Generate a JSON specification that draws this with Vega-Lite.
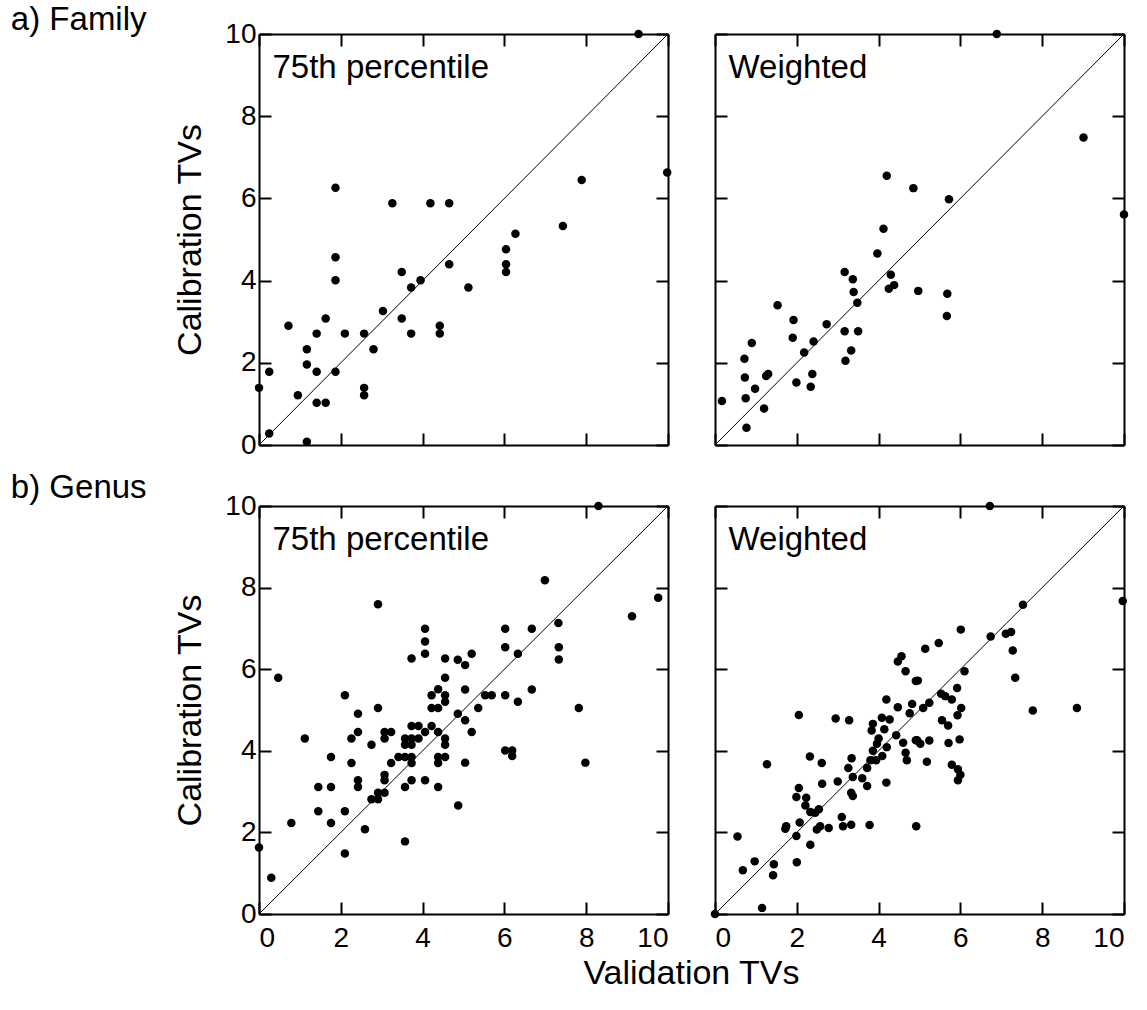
{
  "$schema": "https://vega.github.io/schema/vega-lite/v6.json",
  "padding": {"left": 10, "top": 4, "right": 10, "bottom": 5},
  "background": "white",
  "config": {
    "font": "Liberation Sans",
    "view": {"stroke": null},
    "axis": {
      "domainColor": "black", "domainWidth": 2, "tickColor": "black", "tickWidth": 2, "tickSize": -12,
      "labelFontSize": 28, "labelColor": "black", "labelFont": "Liberation Sans", "labelPadding": 15,
      "titleFont": "Liberation Sans", "titleFontSize": 34, "titleFontWeight": "normal", "titleColor": "black",
      "grid": false
    },
    "title": {"font": "Liberation Sans", "fontSize": 33, "fontWeight": "normal", "color": "black", "anchor": "start"}
  },
  "datasets": {
    "famP": [
      {"x":0,"y":1.39},{"x":0.25,"y":1.78},{"x":0.25,"y":0.28},{"x":1.17,"y":0.08},{"x":0.95,"y":1.21},{"x":0.72,"y":2.9},{"x":1.17,"y":2.33},{"x":1.17,"y":1.96},{"x":1.41,"y":2.71},{"x":1.41,"y":1.78},{"x":1.41,"y":1.03},{"x":1.63,"y":1.03},{"x":1.63,"y":3.08},{"x":1.87,"y":4.57},{"x":1.87,"y":4.01},{"x":1.87,"y":1.78},{"x":2.1,"y":2.71},{"x":2.57,"y":2.71},{"x":2.57,"y":1.39},{"x":2.57,"y":1.21},{"x":2.8,"y":2.33},{"x":3.03,"y":3.26},{"x":3.49,"y":4.21},{"x":3.49,"y":3.08},{"x":3.72,"y":3.83},{"x":3.72,"y":2.71},{"x":3.95,"y":4.01},{"x":4.42,"y":2.9},{"x":4.42,"y":2.71},{"x":4.65,"y":4.4},{"x":5.12,"y":3.83},{"x":6.04,"y":4.76},{"x":6.04,"y":4.4},{"x":6.04,"y":4.21},{"x":6.27,"y":5.14},{"x":9.28,"y":10},{"x":9.98,"y":6.63},{"x":1.87,"y":6.26},{"x":3.26,"y":5.88},{"x":4.19,"y":5.88},{"x":4.65,"y":5.88},{"x":7.89,"y":6.45},{"x":7.43,"y":5.33}
    ],
    "famW": [
      {"x":6.89,"y":10},{"x":9.01,"y":7.48},{"x":10,"y":5.61},{"x":4.2,"y":6.55},{"x":4.85,"y":6.25},{"x":5.72,"y":5.98},{"x":4.12,"y":5.26},{"x":0.17,"y":1.07},{"x":0.77,"y":0.42},{"x":0.72,"y":2.1},{"x":0.73,"y":1.64},{"x":0.75,"y":1.14},{"x":0.9,"y":2.48},{"x":0.98,"y":1.37},{"x":1.2,"y":0.89},{"x":1.25,"y":1.68},{"x":1.3,"y":1.73},{"x":1.53,"y":3.4},{"x":1.92,"y":3.04},{"x":1.9,"y":2.61},{"x":1.99,"y":1.52},{"x":2.18,"y":2.25},{"x":2.34,"y":1.42},{"x":2.38,"y":1.73},{"x":2.41,"y":2.52},{"x":2.73,"y":2.94},{"x":3.17,"y":4.21},{"x":3.37,"y":4.03},{"x":3.39,"y":3.72},{"x":3.48,"y":3.46},{"x":3.17,"y":2.77},{"x":3.5,"y":2.77},{"x":3.33,"y":2.3},{"x":3.19,"y":2.05},{"x":3.97,"y":4.66},{"x":4.3,"y":4.14},{"x":4.25,"y":3.8},{"x":4.38,"y":3.89},{"x":4.97,"y":3.75},{"x":5.68,"y":3.68},{"x":5.67,"y":3.14}
    ],
    "genP": [
      {"x":8.3,"y":10},{"x":6.99,"y":8.18},{"x":2.91,"y":7.59},{"x":9.76,"y":7.75},{"x":9.12,"y":7.3},{"x":7.32,"y":7.13},{"x":4.06,"y":6.99},{"x":6.02,"y":6.99},{"x":6.67,"y":6.99},
      {"x":4.06,"y":6.68},{"x":4.06,"y":6.38},{"x":3.73,"y":6.26},{"x":4.55,"y":6.26},{"x":4.86,"y":6.23},{"x":0.47,"y":5.79},{"x":4.55,"y":5.79},{"x":2.1,"y":5.36},{"x":4.22,"y":5.36},{"x":4.38,"y":5.51},{"x":4.55,"y":5.36},{"x":4.22,"y":5.05},{"x":4.38,"y":5.05},{"x":4.55,"y":5.2},{"x":4.86,"y":4.91},{"x":2.91,"y":5.05},{"x":2.42,"y":4.91},{"x":1.12,"y":4.3},{"x":2.42,"y":4.46},{"x":2.26,"y":4.3},{"x":2.75,"y":4.15},{"x":3.07,"y":4.46},{"x":3.23,"y":4.46},{"x":3.07,"y":4.3},{"x":3.57,"y":4.3},{"x":3.73,"y":4.61},{"x":3.9,"y":4.61},{"x":3.73,"y":4.3},{"x":3.57,"y":4.15},{"x":3.73,"y":4.15},{"x":3.9,"y":4.3},{"x":4.06,"y":4.46},{"x":4.22,"y":4.61},{"x":4.38,"y":4.46},{"x":4.55,"y":4.3},{"x":4.55,"y":4.15},{"x":1.76,"y":3.85},{"x":2.26,"y":3.7},{"x":3.23,"y":3.7},{"x":3.41,"y":3.85},{"x":3.57,"y":3.85},{"x":3.73,"y":3.85},{"x":3.73,"y":3.7},{"x":4.38,"y":3.85},{"x":4.55,"y":3.85},{"x":4.38,"y":3.7},{"x":3.07,"y":3.41},{"x":3.07,"y":3.28},{"x":2.42,"y":3.28},{"x":3.73,"y":3.28},{"x":4.06,"y":3.28},
      {"x":6.02,"y":6.54},{"x":6.33,"y":6.38},{"x":7.33,"y":6.54},{"x":7.33,"y":6.24},{"x":5.2,"y":6.38},{"x":5.04,"y":6.1},{"x":5.04,"y":5.5},{"x":5.53,"y":5.36},{"x":5.69,"y":5.36},{"x":6.02,"y":5.36},{"x":6.67,"y":5.5},{"x":6.33,"y":5.2},{"x":5.36,"y":5.05},{"x":5.04,"y":4.75},{"x":5.2,"y":4.46},{"x":7.82,"y":5.05},{"x":6.02,"y":4.01},{"x":6.19,"y":4.01},{"x":6.19,"y":3.87},{"x":5.04,"y":3.71},{"x":7.98,"y":3.71},
      {"x":2.42,"y":3.11},{"x":1.45,"y":3.11},{"x":1.76,"y":3.11},{"x":3.57,"y":3.11},{"x":4.38,"y":3.11},{"x":2.75,"y":2.81},{"x":2.91,"y":2.97},{"x":2.91,"y":2.81},{"x":3.07,"y":2.97},{"x":4.87,"y":2.66},{"x":1.45,"y":2.52},{"x":2.1,"y":2.52},{"x":0.79,"y":2.23},{"x":1.76,"y":2.23},{"x":2.59,"y":2.08},{"x":3.57,"y":1.78},{"x":0,"y":1.63},{"x":2.1,"y":1.48},{"x":0.3,"y":0.89}
    ],
    "genW": [
      {"x":6.72,"y":10},{"x":9.97,"y":7.67},{"x":7.53,"y":7.58},{"x":6.01,"y":6.97},{"x":6.74,"y":6.8},{"x":7.11,"y":6.87},{"x":7.24,"y":6.91},
      {"x":4.56,"y":6.32},{"x":4.47,"y":6.19},{"x":4.66,"y":5.95},{"x":4.91,"y":5.71},{"x":2.05,"y":4.88},{"x":2.95,"y":4.79},{"x":3.28,"y":4.75},{"x":4.19,"y":5.26},{"x":4.47,"y":5.07},{"x":4.82,"y":5.15},{"x":4.76,"y":4.92},{"x":4.08,"y":4.81},{"x":4.27,"y":4.77},{"x":3.86,"y":4.66},{"x":3.83,"y":4.5},{"x":4.14,"y":4.53},{"x":4.43,"y":4.38},{"x":4.0,"y":4.3},{"x":4.6,"y":4.2},{"x":4.91,"y":4.26},{"x":3.96,"y":4.17},{"x":4.2,"y":4.09},{"x":3.86,"y":4.0},{"x":4.09,"y":3.87},{"x":4.66,"y":3.95},{"x":4.69,"y":3.77},{"x":3.8,"y":3.77},{"x":3.94,"y":3.77},{"x":1.27,"y":3.67},{"x":2.32,"y":3.86},{"x":2.61,"y":3.7},{"x":3.34,"y":3.82},{"x":3.26,"y":3.58},{"x":3.72,"y":3.58},{"x":2.62,"y":3.19},{"x":3.0,"y":3.25},{"x":3.37,"y":3.36},{"x":3.6,"y":3.33},{"x":4.19,"y":3.22},
      {"x":5.14,"y":6.5},{"x":5.47,"y":6.64},{"x":7.28,"y":6.46},{"x":7.34,"y":5.79},{"x":6.1,"y":5.95},{"x":4.96,"y":5.72},{"x":5.92,"y":5.54},{"x":5.53,"y":5.4},{"x":5.63,"y":5.34},{"x":5.79,"y":5.26},{"x":5.24,"y":5.18},{"x":5.09,"y":5.05},{"x":6.02,"y":5.05},{"x":5.93,"y":4.87},{"x":7.77,"y":4.99},{"x":8.85,"y":5.05},{"x":5.55,"y":4.75},{"x":5.7,"y":4.62},{"x":4.94,"y":4.26},{"x":5.02,"y":4.17},{"x":5.24,"y":4.25},{"x":5.71,"y":4.19},{"x":5.98,"y":4.28},{"x":5.18,"y":3.73},{"x":5.79,"y":3.66},{"x":5.94,"y":3.55},{"x":6.0,"y":3.41},{"x":5.94,"y":3.28},
      {"x":0,"y":0},{"x":1.15,"y":0.15},{"x":0.55,"y":1.9},{"x":0.68,"y":1.07},{"x":0.97,"y":1.29},{"x":1.44,"y":1.22},{"x":1.42,"y":0.95},{"x":2.0,"y":1.27},{"x":2.33,"y":1.7},{"x":1.99,"y":1.91},{"x":1.72,"y":2.09},{"x":1.74,"y":2.15},{"x":2.07,"y":2.24},{"x":2.49,"y":2.07},{"x":2.57,"y":2.15},{"x":2.78,"y":2.11},{"x":3.1,"y":2.38},{"x":3.13,"y":2.15},{"x":3.33,"y":2.19},{"x":3.78,"y":2.18},{"x":4.92,"y":2.15},{"x":1.99,"y":2.87},{"x":2.05,"y":3.09},{"x":2.23,"y":2.85},{"x":2.21,"y":2.66},{"x":2.33,"y":2.5},{"x":2.45,"y":2.48},{"x":2.54,"y":2.57},{"x":3.33,"y":2.97},{"x":3.37,"y":2.89},{"x":3.72,"y":3.14}
    ]
  },
  "spacing": 13,
  "vconcat": [
    {
      "title": {"text": "a) Family", "dx": -163, "offset": -17},
      "spacing": 47,
      "bounds": "flush",
      "hconcat": [
        {
          "width": 409, "height": 411,
          "resolve": {"axis": {"x": "independent", "y": "independent"}},
          "layer": [
            {"data": {"values": [{"a": 0, "b": 0, "a2": 10, "b2": 10}]},
             "mark": {"type": "rule", "color": "black", "strokeWidth": 1},
             "encoding": {
               "x": {"field": "a", "type": "quantitative", "scale": {"domain": [0, 10], "nice": false}, "axis": {"orient": "bottom", "labels": false, "title": null, "values": [0, 2, 4, 6, 8, 10]}},
               "y": {"field": "b", "type": "quantitative", "scale": {"domain": [0, 10], "nice": false}, "axis": {"orient": "left", "title": "Calibration TVs", "titlePadding": 17, "values": [0, 2, 4, 6, 8, 10]}},
               "x2": {"field": "a2"}, "y2": {"field": "b2"}}},
            {"data": {"name": "famP"},
             "mark": {"type": "circle", "color": "black", "size": 72, "opacity": 1},
             "encoding": {
               "x": {"field": "x", "type": "quantitative", "scale": {"domain": [0, 10], "nice": false}, "axis": {"orient": "top", "labels": false, "title": null, "values": [0, 2, 4, 6, 8, 10]}},
               "y": {"field": "y", "type": "quantitative", "scale": {"domain": [0, 10], "nice": false}, "axis": {"orient": "right", "labels": false, "title": null, "values": [0, 2, 4, 6, 8, 10]}}}},
            {"data": {"values": [{"label": "75th percentile"}]},
             "mark": {"type": "text", "align": "left", "baseline": "top", "fontSize": 33, "font": "Liberation Sans", "color": "black"},
             "encoding": {"text": {"field": "label"}, "x": {"datum": 0.33, "type": "quantitative", "axis": null}, "y": {"datum": 9.55, "type": "quantitative", "axis": null}}}
          ]
        },
        {
          "width": 409, "height": 411,
          "resolve": {"axis": {"x": "independent", "y": "independent"}},
          "layer": [
            {"data": {"values": [{"a": 0, "b": 0, "a2": 10, "b2": 10}]},
             "mark": {"type": "rule", "color": "black", "strokeWidth": 1},
             "encoding": {
               "x": {"field": "a", "type": "quantitative", "scale": {"domain": [0, 10], "nice": false}, "axis": {"orient": "bottom", "labels": false, "title": null, "values": [0, 2, 4, 6, 8, 10]}},
               "y": {"field": "b", "type": "quantitative", "scale": {"domain": [0, 10], "nice": false}, "axis": {"orient": "left", "labels": false, "title": null, "values": [0, 2, 4, 6, 8, 10]}},
               "x2": {"field": "a2"}, "y2": {"field": "b2"}}},
            {"data": {"name": "famW"},
             "mark": {"type": "circle", "color": "black", "size": 72, "opacity": 1},
             "encoding": {
               "x": {"field": "x", "type": "quantitative", "scale": {"domain": [0, 10], "nice": false}, "axis": {"orient": "top", "labels": false, "title": null, "values": [0, 2, 4, 6, 8, 10]}},
               "y": {"field": "y", "type": "quantitative", "scale": {"domain": [0, 10], "nice": false}, "axis": {"orient": "right", "labels": false, "title": null, "values": [0, 2, 4, 6, 8, 10]}}}},
            {"data": {"values": [{"label": "Weighted"}]},
             "mark": {"type": "text", "align": "left", "baseline": "top", "fontSize": 33, "font": "Liberation Sans", "color": "black"},
             "encoding": {"text": {"field": "label"}, "x": {"datum": 0.33, "type": "quantitative", "axis": null}, "y": {"datum": 9.55, "type": "quantitative", "axis": null}}}
          ]
        }
      ]
    },
    {
      "title": {"text": "b) Genus", "dx": -163, "offset": -13},
      "spacing": 47,
      "bounds": "flush",
      "hconcat": [
        {
          "width": 409, "height": 408,
          "resolve": {"axis": {"x": "independent", "y": "independent"}},
          "layer": [
            {"data": {"values": [{"a": 0, "b": 0, "a2": 10, "b2": 10}]},
             "mark": {"type": "rule", "color": "black", "strokeWidth": 1},
             "encoding": {
               "x": {"field": "a", "type": "quantitative", "scale": {"domain": [0, 10], "nice": false}, "axis": {"orient": "bottom", "title": "Validation TVs", "titleX": 432, "titlePadding": 4, "labelPadding": 22, "values": [0, 2, 4, 6, 8, 10]}},
               "y": {"field": "b", "type": "quantitative", "scale": {"domain": [0, 10], "nice": false}, "axis": {"orient": "left", "title": "Calibration TVs", "titlePadding": 17, "values": [0, 2, 4, 6, 8, 10]}},
               "x2": {"field": "a2"}, "y2": {"field": "b2"}}},
            {"data": {"name": "genP"},
             "mark": {"type": "circle", "color": "black", "size": 72, "opacity": 1},
             "encoding": {
               "x": {"field": "x", "type": "quantitative", "scale": {"domain": [0, 10], "nice": false}, "axis": {"orient": "top", "labels": false, "title": null, "values": [0, 2, 4, 6, 8, 10]}},
               "y": {"field": "y", "type": "quantitative", "scale": {"domain": [0, 10], "nice": false}, "axis": {"orient": "right", "labels": false, "title": null, "values": [0, 2, 4, 6, 8, 10]}}}},
            {"data": {"values": [{"label": "75th percentile"}]},
             "mark": {"type": "text", "align": "left", "baseline": "top", "fontSize": 33, "font": "Liberation Sans", "color": "black"},
             "encoding": {"text": {"field": "label"}, "x": {"datum": 0.33, "type": "quantitative", "axis": null}, "y": {"datum": 9.55, "type": "quantitative", "axis": null}}}
          ]
        },
        {
          "width": 409, "height": 408,
          "resolve": {"axis": {"x": "independent", "y": "independent"}},
          "layer": [
            {"data": {"values": [{"a": 0, "b": 0, "a2": 10, "b2": 10}]},
             "mark": {"type": "rule", "color": "black", "strokeWidth": 1},
             "encoding": {
               "x": {"field": "a", "type": "quantitative", "scale": {"domain": [0, 10], "nice": false}, "axis": {"orient": "bottom", "title": null, "labelPadding": 22, "values": [0, 2, 4, 6, 8, 10]}},
               "y": {"field": "b", "type": "quantitative", "scale": {"domain": [0, 10], "nice": false}, "axis": {"orient": "left", "labels": false, "title": null, "values": [0, 2, 4, 6, 8, 10]}},
               "x2": {"field": "a2"}, "y2": {"field": "b2"}}},
            {"data": {"name": "genW"},
             "mark": {"type": "circle", "color": "black", "size": 72, "opacity": 1},
             "encoding": {
               "x": {"field": "x", "type": "quantitative", "scale": {"domain": [0, 10], "nice": false}, "axis": {"orient": "top", "labels": false, "title": null, "values": [0, 2, 4, 6, 8, 10]}},
               "y": {"field": "y", "type": "quantitative", "scale": {"domain": [0, 10], "nice": false}, "axis": {"orient": "right", "labels": false, "title": null, "values": [0, 2, 4, 6, 8, 10]}}}},
            {"data": {"values": [{"label": "Weighted"}]},
             "mark": {"type": "text", "align": "left", "baseline": "top", "fontSize": 33, "font": "Liberation Sans", "color": "black"},
             "encoding": {"text": {"field": "label"}, "x": {"datum": 0.33, "type": "quantitative", "axis": null}, "y": {"datum": 9.55, "type": "quantitative", "axis": null}}}
          ]
        }
      ]
    }
  ]
}
